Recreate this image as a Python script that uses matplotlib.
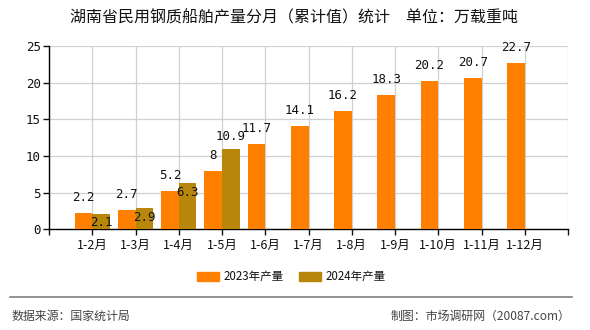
import matplotlib
matplotlib.use("Agg")
import matplotlib.pyplot as plt
from matplotlib.patches import Rectangle
from matplotlib.lines import Line2D

plt.rcParams['font.family'] = ['Noto Sans CJK SC', 'DejaVu Sans']

months = ["1-2月", "1-3月", "1-4月", "1-5月", "1-6月", "1-7月",
          "1-8月", "1-9月", "1-10月", "1-11月", "1-12月"]
values_2023 = [2.2, 2.7, 5.2, 8, 11.7, 14.1, 16.2, 18.3, 20.2, 20.7, 22.7]
values_2024 = [2.1, 2.9, 6.3, 10.9]
labels_2023 = ["2.2", "2.7", "5.2", "8", "11.7", "14.1", "16.2", "18.3", "20.2", "20.7", "22.7"]
labels_2024 = ["2.1", "2.9", "6.3", "10.9"]
series_names = ["2023年产量", "2024年产量"]
y_ticks = [0, 5, 10, 15, 20, 25]

c23 = "#FF8000"
c24 = "#B8860B"

fig = plt.figure(figsize=(5.9, 3.3), dpi=100)
ax = fig.add_axes([49 / 590, 1 - 229.3 / 330, 519 / 590, 183.3 / 330])

w = 0.41
pos = [i + 1 for i in range(len(months))]
ax.bar([p - w / 2 for p in pos], values_2023, width=w, color=c23, zorder=3)
ax.bar([p + w / 2 for p in pos[:len(values_2024)]], values_2024, width=w, color=c24, zorder=3)

num_font = dict(family="DejaVu Sans Mono", fontsize=9, color="#111111")
for p, v, t in zip(pos, values_2023, labels_2023):
    ax.annotate(t, (p - w / 2, v), xytext=(0, 11), textcoords="offset points",
                ha="center", va="center", zorder=5, **num_font)
for p, v, t in zip(pos, values_2024, labels_2024):
    off = 9 if v > 10 else -6.5
    ax.annotate(t, (p + w / 2, v), xytext=(0, off), textcoords="offset points",
                ha="center", va="center", zorder=5, **num_font)

ax.set_xlim(0, 12)
ax.set_ylim(0, 25)
ax.set_xticks(range(0, 13))
ax.set_xticklabels([""] + months + [""], fontsize=9)
ax.set_yticks(y_ticks)
ax.set_yticklabels([str(t) for t in y_ticks], family="DejaVu Sans Mono", fontsize=9)
ax.grid(True, color="#D0D0D0", linewidth=0.9, zorder=0)
for s in ["top", "right"]:
    ax.spines[s].set_visible(False)
ax.spines["left"].set_linewidth(1.0)
ax.spines["bottom"].set_linewidth(1.0)
ax.tick_params(axis="both", length=4, width=1.0, colors="#111111", pad=2)
ax.tick_params(axis="x", pad=3)

fig.text(294 / 590, 1 - 17.5 / 330, "湖南省民用钢质船舶产量分月（累计值）统计\u3000单位：万载重吨",
         ha="center", va="center", fontsize=11.5, color="#111111")

# legend
lx = [197, 299]
for x0, col, name in zip(lx, [c23, c24], series_names):
    fig.patches.append(Rectangle((x0 / 590, 1 - 281 / 330), 22 / 590, 9 / 330,
                                 transform=fig.transFigure, color=col))
    fig.text((x0 + 27) / 590, 1 - 276.5 / 330, name, ha="left", va="center",
             fontsize=8.3, color="#111111")

fig.lines.append(Line2D([10 / 590, 572 / 590], [1 - 297 / 330] * 2,
                        transform=fig.transFigure, color="#808080", linewidth=1.2))
fig.text(12 / 590, 1 - 316 / 330, "数据来源：国家统计局", ha="left", va="center",
         fontsize=8.6, color="#444444")
fig.text(570 / 590, 1 - 316 / 330, "制图：市场调研网（20087.com）", ha="right", va="center",
         fontsize=8.6, color="#444444")

fig.savefig("out.png", dpi=100)
